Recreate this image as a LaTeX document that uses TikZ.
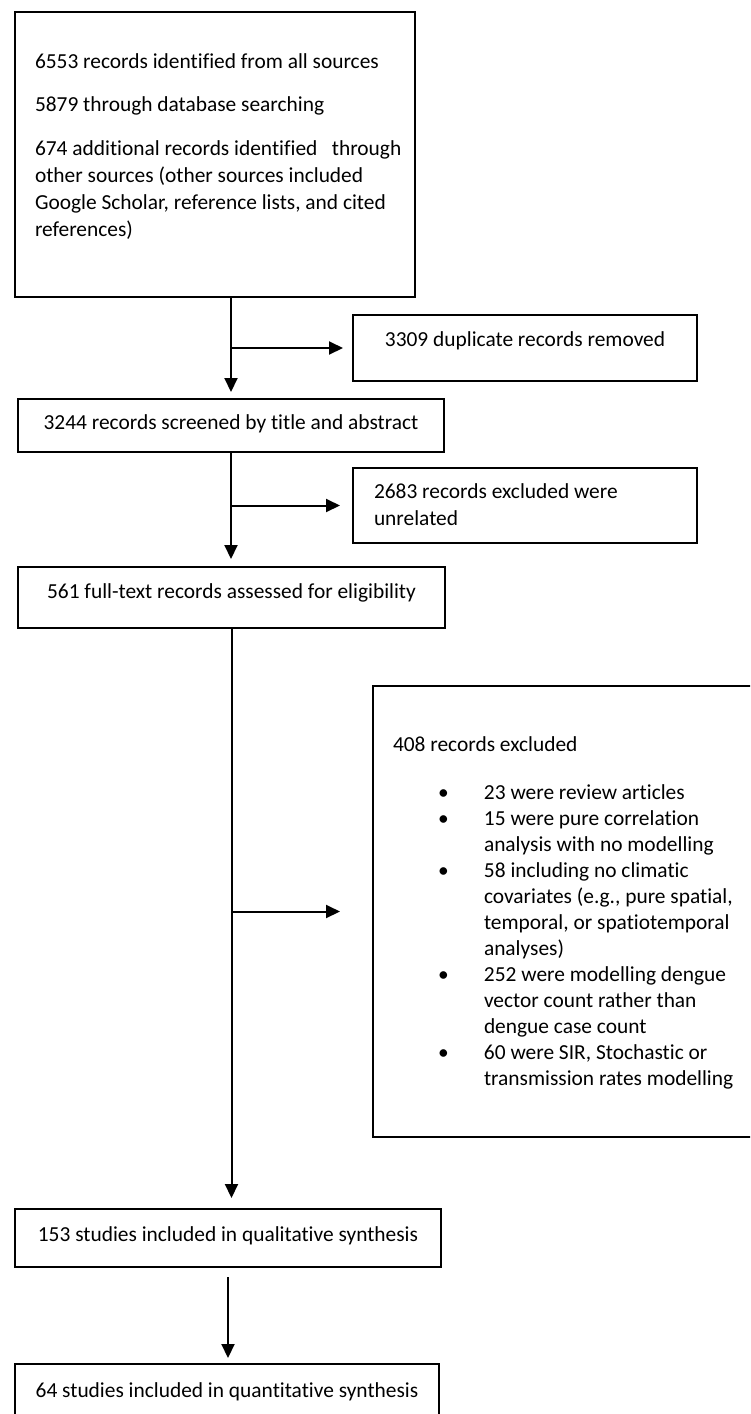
\documentclass[tikz,border=0pt]{standalone}
\usepackage{fontspec}
\setmainfont{Carlito}[Ligatures=CommonOff]
\usetikzlibrary{arrows.meta}
\newcommand{\boxfont}{\fontsize{21.4}{27}\selectfont}

\begin{document}
\begin{tikzpicture}[x=1pt, y=-1pt,
    box/.style={draw, line width=2pt, anchor=north west, inner xsep=20pt,
      inner ysep=0pt, font=\boxfont},
    flow/.style={line width=2pt, -{Triangle[length=14pt,width=13pt]}}]
  \useasboundingbox (0,0) rectangle (750,1414);
  \clip (0,0) rectangle (750,1414);

  % Main path
  \node[box, align=flush left, text width=360pt, text height=56pt, text depth=229pt]
    (ident) at (14,11) {6553 records identified from all sources\\[16pt]
    5879 through database searching\\[17pt]
    \mbox{674 additional records identified \ \ through}\\
    other sources (other sources included\\
    \mbox{Google Scholar, reference lists, and cited}\\
    references)};
  \node[box, align=flush center, inner xsep=10pt, text width=406pt, text height=30pt,
    text depth=23pt] (screen) at (17,398) {3244 records screened by title and abstract};
  \node[box, align=flush center, inner xsep=10pt, text width=407pt, text height=31pt,
    text depth=30pt] (full) at (17,566) {561 full-text records assessed for eligibility};
  \node[box, align=flush center, inner xsep=10pt, text width=406pt, text height=32pt,
    text depth=26pt] (qual) at (14,1208) {153 studies included in qualitative synthesis};
  \node[box, align=flush center, inner xsep=10pt, text width=404pt, text height=33pt,
    text depth=34pt] (quant) at (14,1363) {64 studies included in quantitative synthesis};

  % Removed records
  \node[box, align=flush center, text width=304pt, text height=31pt, text depth=35pt]
    (dup) at (352,314) {3309 duplicate records removed};
  \node[box, align=flush left, inner xsep=21pt, text width=302pt, text height=30pt,
    text depth=45pt] (unrel) at (352,467) {2683 records excluded were\\
    unrelated};
  \node[box, align=flush left, text width=360pt, text height=65pt, text depth=386pt,
    font=\fontsize{21.4}{26}\selectfont] (excl) at (372,685)
    {408 records excluded\\[22pt]
    \begin{tabular}[t]{@{\hspace{45pt}}p{46pt}@{}l@{}}
      \textbullet & 23 were review articles\\
      \textbullet & 15 were pure correlation\\
                  & analysis with no modelling\\
      \textbullet & 58 including no climatic\\
                  & covariates (e.g., pure spatial,\\
                  & temporal, or spatiotemporal\\
                  & analyses)\\
      \textbullet & 252 were modelling dengue\\
                  & vector count rather than\\
                  & dengue case count\\
      \textbullet & 60 were SIR, Stochastic or\\
                  & transmission rates modelling
    \end{tabular}};

  % Connectors
  \draw[flow, shorten >=6pt] (ident.south -| screen.north) -- (screen.north);
  \draw[flow, shorten >=9pt] (screen.north |- dup.west) -- (dup.west);
  \draw[flow, shorten >=7pt] (screen.south) -- (screen.south |- full.north);
  \draw[flow, shorten >=12pt] (screen.south |- unrel.west) -- (unrel.west);
  \draw[flow, shorten >=10pt] (full.south) -- (full.south |- qual.north);
  \draw[flow, shorten >=32pt] (full.south |- excl.west) -- (excl.west);
  \draw[flow, shorten <=9pt, shorten >=5pt] (qual.south) -- (qual.south |- quant.north);
\end{tikzpicture}
\end{document}
